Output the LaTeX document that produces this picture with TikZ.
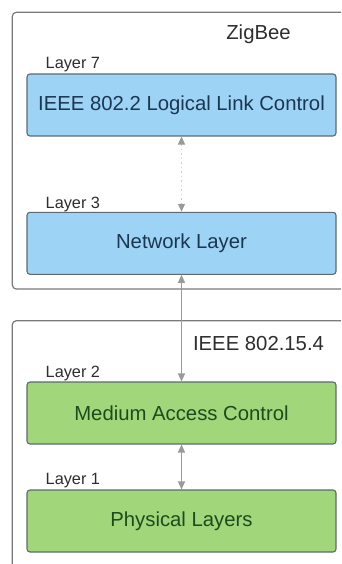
\documentclass[tikz,border=0pt]{standalone}
\usepackage{fontspec}
\setmainfont{Liberation Sans}
\usetikzlibrary{arrows.meta}
\definecolor{bluefill}{HTML}{9DD3F5}
\definecolor{bluetext}{HTML}{1B3650}
\definecolor{greenfill}{HTML}{A2D67B}
\definecolor{greentext}{HTML}{1F4A1C}
\definecolor{boxline}{HTML}{5E6A72}
\definecolor{frameline}{HTML}{7A7A7A}
\definecolor{arrowgrey}{HTML}{9A9A9A}
\definecolor{labeltext}{HTML}{2E2E2E}
\tikzset{
  layerbox/.style={draw=boxline, line width=1.1pt, rounded corners=3pt, minimum width=309pt, minimum height=62pt, inner sep=0pt, font=\fontsize{20.3}{22}\selectfont},
  bluebox/.style={layerbox, fill=bluefill, text=bluetext},
  greenbox/.style={layerbox, fill=greenfill, text=greentext},
  frame/.style={draw=frameline, line width=1.2pt, rounded corners=4pt},
  layerlabel/.style={anchor=west, inner sep=0pt, text=labeltext, font=\fontsize{16.3}{18}\selectfont},
  titlelabel/.style={inner sep=0pt, text=labeltext, font=\fontsize{20.3}{22}\selectfont},
  conn/.style={draw=arrowgrey, line width=1.3pt, {Triangle[length=8pt,width=7pt,color=arrowgrey,fill=arrowgrey]}-{Triangle[length=8pt,width=7pt,color=arrowgrey,fill=arrowgrey]}},
  dotconn/.style={conn, draw=arrowgrey!50, dash pattern=on 1.5pt off 3pt}
}
\begin{document}
\begin{tikzpicture}[x=1pt,y=-1pt]
\useasboundingbox (0,0) rectangle (341,564);
\clip (0,0) rectangle (341,564);
\fill[white] (0,0) rectangle (341,564);
% outer frames
\draw[frame] (12.3,12.3) rectangle (370,289);
\draw[frame] (12.3,320.7) rectangle (370,600);
% titles
\node[titlelabel] (zigbee) at (258.5,34) {ZigBee};
\node[titlelabel] (ieee) at (258.5,344) {IEEE 802.15.4};
% boxes
\node[bluebox] (llc) at (181.5,105) {IEEE 802.2 Logical Link Control};
\node[bluebox] (net) at (181.5,243.3) {Network Layer};
\node[greenbox] (mac) at (181.5,413) {Medium Access Control};
\node[greenbox] (phy) at (181.5,521) {Physical Layers};
% layer labels
\node[layerlabel] (l7) at (45.5,65) {Layer 7};
\node[layerlabel] (l3) at (45.5,204) {Layer 3};
\node[layerlabel] (l2) at (45.5,373) {Layer 2};
\node[layerlabel] (l1) at (45.5,481) {Layer 1};
% connectors
\draw[dotconn] (llc.south) -- (net.north);
\draw[conn] (net.south) -- (mac.north);
\draw[conn] (mac.south) -- (phy.north);
\end{tikzpicture}
\end{document}
